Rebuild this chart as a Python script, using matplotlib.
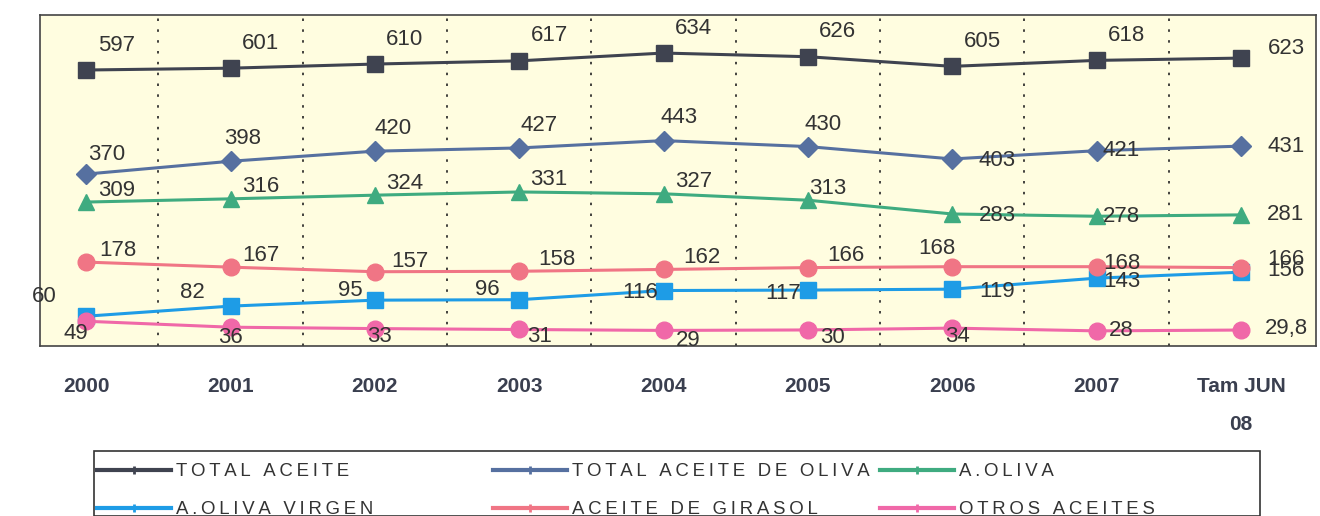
import matplotlib.pyplot as plt
from matplotlib.lines import Line2D
from matplotlib.patches import Rectangle

plt.rcParams['font.family'] = ['Liberation Sans', 'DejaVu Sans']

# categories and series (thousand tonnes)
years = ['2000', '2001', '2002', '2003', '2004', '2005', '2006', '2007', 'Tam JUN\n08']
total_aceite = [597, 601, 610, 617, 634, 626, 605, 618, 623]
total_oliva = [370, 398, 420, 427, 443, 430, 403, 421, 431]
a_oliva = [309, 316, 324, 331, 327, 313, 283, 278, 281]
oliva_virgen = [60, 82, 95, 96, 116, 117, 119, 143, 156]
girasol = [178, 167, 157, 158, 162, 166, 168, 168, 166]
otros = [49, 36, 33, 31, 29, 30, 34, 28, 29.8]
otros_labels = ['49', '36', '33', '31', '29', '30', '34', '28', '29,8']

names = ['TOTAL ACEITE', 'TOTAL ACEITE DE OLIVA', 'A.OLIVA',
         'A.OLIVA VIRGEN', 'ACEITE DE GIRASOL', 'OTROS ACEITES']
colors = ['#3f4350', '#5670a0', '#3fab80', '#1e9ce6', '#f07585', '#f068a8']
markers = ['s', 'D', '^', 's', 'o', 'o']
msizes = [11, 10, 11, 11, 12, 12]

# label offsets in pixels (dx, dy) per point
up_r = (30, 25)
off_total = [up_r] * 8 + [(45, 10)]
off_oliva = [(20, 20), (12, 23), (18, 23), (20, 22), (15, 23), (15, 22), (45, -2), (25, 0), (45, 0)]
off_aoliva = [(30, 12), (30, 12), (30, 12), (30, 12), (30, 12), (20, 12), (45, -2), (25, 0), (45, 0)]
off_gira = [(32, 12), (30, 12), (35, 10), (38, 12), (38, 12), (38, 12), (-15, 18), (25, 3), (45, 8)]
off_virg = [(-42, 20), (-38, 14), (-25, 10), (-32, 10), (-23, -2), (-25, -3), (45, -2), (25, -3), (45, 2)]
off_otros = [(-10, -12), (0, -10), (5, -8), (20, -7), (25, -10), (25, -8), (5, -8), (25, 0), (45, 2)]

series = [total_aceite, total_oliva, a_oliva, oliva_virgen, girasol, otros]
offsets = [off_total, off_oliva, off_aoliva, off_virg, off_gira, off_otros]

W, H = 1320, 516
fig = plt.figure(figsize=(13.2, 5.16), dpi=100)
ax = fig.add_axes([40 / W, 1 - 346 / H, 1276 / W, 331 / H])
ax.set_facecolor('#fffde0')
x = list(range(len(years)))

for i, vals in enumerate(series):
    ax.plot(x, vals, color=colors[i], lw=2.2, marker=markers[i], ms=msizes[i],
            zorder=3 + i * 0.1)
    for j, v in enumerate(vals):
        txt = otros_labels[j] if vals is otros else str(v)
        ax.annotate(txt, (j, v), xytext=offsets[i][j], textcoords='offset pixels',
                    ha='center', va='center', fontsize=16, color='#333333', zorder=5)

# dotted separators between categories
for b in range(1, len(years)):
    ax.axvline(b - 0.5, color='#222222', lw=1.2, ls=(0, (1.5, 5)), zorder=1)

ax.set_xlim(-0.32, 8.52)
ax.set_ylim(-5, 717)
ax.set_yticks([])
ax.set_xticks(x)
ax.set_xticklabels(years, fontsize=15, fontweight='bold', color='#3a3f4f',
                   linespacing=2.3)
ax.tick_params(axis='x', length=0, pad=22)
for lbl in ax.get_xticklabels()[-1:]:
    lbl.set_ha('center')
    lbl.set_x(8.05)
for s in ax.spines.values():
    s.set_color('#444444')
    s.set_linewidth(1.2)


def spaced(s):
    # emulate the letter spacing of the original legend
    return '\u2009'.join(s)


# legend: frame plus three columns placed like the original
fig.patches.append(Rectangle((94 / W, 0), (1260 - 94) / W, 1 - 451 / H,
                             transform=fig.transFigure, fill=False,
                             edgecolor='#333333', lw=1.2))
col_x = [97, 493, 880]
col_items = [[0, 3], [1, 4], [2, 5]]
for cx, items in zip(col_x, col_items):
    hs = [Line2D([], [], color=colors[k], lw=3, marker='+', ms=6, mew=2) for k in items]
    leg = fig.legend(hs, [spaced(names[k]) for k in items], loc='upper left',
                     bbox_to_anchor=(cx / W, 1 - 463 / H), frameon=False,
                     fontsize=13.4, handlelength=4.0, handletextpad=0.25,
                     borderpad=0, borderaxespad=0, labelspacing=1.15)
    for t in leg.get_texts():
        t.set_color('#333333')

fig.savefig('out.png', dpi=100, facecolor='white')
